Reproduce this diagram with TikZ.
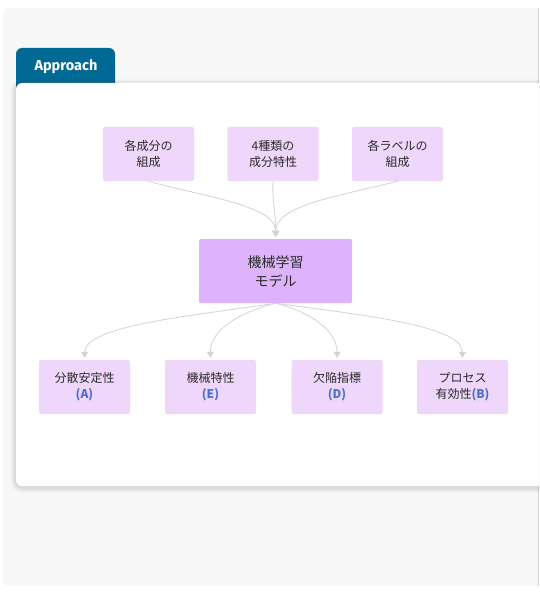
\documentclass[tikz,border=0pt]{standalone}
\usepackage{fontspec}
\setmainfont{Noto Sans CJK JP}
\newfontfamily\tabfont{Fira Sans}
\usetikzlibrary{arrows.meta}
\definecolor{panelgray}{HTML}{F7F7F7}
\definecolor{tabblue}{HTML}{006994}
\definecolor{lightbox}{HTML}{EFD7FC}
\definecolor{midbox}{HTML}{DDB4FB}
\definecolor{linkgray}{HTML}{D3D3D3}
\definecolor{txt}{HTML}{2A2A2A}
\definecolor{letterblue}{HTML}{4A6FCF}
\tikzset{
  smallbox/.style={fill=lightbox, rounded corners=2pt, minimum width=91pt, minimum height=54pt, align=center, text=txt, font=\fontsize{12}{16}\selectfont, inner sep=0pt},
  bigbox/.style={fill=midbox, rounded corners=2pt, minimum width=153pt, minimum height=64pt, align=center, text=txt, font=\fontsize{14}{19}\selectfont, inner sep=0pt},
  link/.style={draw=linkgray, line width=0.8pt, -{Triangle[length=6pt,width=7pt,fill=linkgray]}, shorten >=2pt}
}
\newcommand{\lett}[1]{\textcolor{letterblue}{\textbf{#1}}}
\begin{document}
\begin{tikzpicture}[x=1pt,y=-1pt]
\useasboundingbox (0,0) rectangle (539,596);
\clip (0,0) rectangle (539,596);
% outer panel
\fill[panelgray, rounded corners=6pt] (3,8) rectangle (560,586);
\draw[gray!35, line width=0.8pt] (538,8) -- (538,586);
% tab
\fill[tabblue, rounded corners=6pt] (16,48) rectangle (115,100);
\node[text=white, font=\tabfont\bfseries\fontsize{14.5}{16}\selectfont, anchor=west] (tab) at (31,67) {Approach};
% card soft shadow
\foreach \s in {1,2,3,4,5}{
  \fill[black, opacity=0.025, rounded corners=6pt+\s pt] (16-\s,83-\s+1.5) rectangle (560+\s,486+\s+1.5);
}
\fill[white, rounded corners=6pt] (16,83) rectangle (560,486);
% nodes
\node[smallbox] (t1) at (148.5,154) {各成分の\\組成};
\node[smallbox] (t2) at (273,154) {4種類の\\成分特性};
\node[smallbox] (t3) at (397.5,154) {各ラベルの\\組成};
\node[bigbox] (m) at (275.5,271) {機械学習\\モデル};
\node[smallbox] (b1) at (84.5,387) {分散安定性\\\lett{(A)}};
\node[smallbox] (b2) at (210.5,387) {機械特性\\\lett{(E)}};
\node[smallbox] (b3) at (337,387) {欠陥指標\\\lett{(D)}};
\node[smallbox] (b4) at (462.5,387) {プロセス\\有効性\lett{(B)}};
% links
\draw[link] (t1.south) .. controls (200,196) and (276,205) .. (m.north);
\draw[link] (t2.south) .. controls (272,200) and (276,215) .. (m.north);
\draw[link] (t3.south) .. controls (340,196) and (276,205) .. (m.north);
\draw[link] (m.south) .. controls (200,315) and (85,325) .. (b1.north);
\draw[link] (m.south) .. controls (240,312) and (210,330) .. (b2.north);
\draw[link] (m.south) .. controls (310,312) and (337,330) .. (b3.north);
\draw[link] (m.south) .. controls (360,315) and (462,325) .. (b4.north);
\end{tikzpicture}
\end{document}
